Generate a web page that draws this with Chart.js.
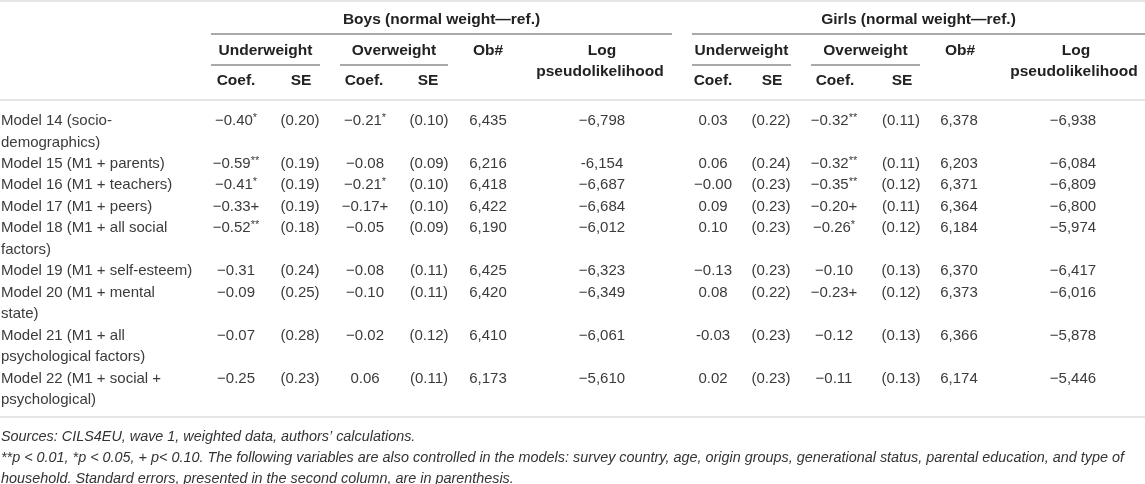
<!DOCTYPE html>
<html>
<head>
<meta charset="utf-8">
<title>Boys and girls weight models</title>
<script src="https://cdn.jsdelivr.net/npm/chart.js@4.4.1/dist/chart.umd.min.js"></script>
<style>
  html, body { margin: 0; padding: 0; background: #fff; }
  #wrap { width: 1145px; height: 484px; position: relative; }
</style>
</head>
<body>
<div id="wrap"><canvas id="tbl"></canvas></div>
<script>
// table data
var modelLabels = [
  ['Model 14 (socio-', 'demographics)'],
  ['Model 15 (M1 + parents)'],
  ['Model 16 (M1 + teachers)'],
  ['Model 17 (M1 + peers)'],
  ['Model 18 (M1 + all social', 'factors)'],
  ['Model 19 (M1 + self-esteem)'],
  ['Model 20 (M1 + mental', 'state)'],
  ['Model 21 (M1 + all', 'psychological factors)'],
  ['Model 22 (M1 + social +', 'psychological)']
];
var groupLabels = ['Boys (normal weight\u2014ref.)', 'Girls (normal weight\u2014ref.)'];
var subLabels = ['Underweight', 'Overweight', 'Ob#', ['Log', 'pseudolikelihood']];
var statLabels = ['Coef.', 'SE'];

var boysUnderCoef = ['\u22120.40*', '\u22120.59**', '\u22120.41*', '\u22120.33+', '\u22120.52**', '\u22120.31', '\u22120.09', '\u22120.07', '\u22120.25'];
var boysUnderSE   = ['(0.20)', '(0.19)', '(0.19)', '(0.19)', '(0.18)', '(0.24)', '(0.25)', '(0.28)', '(0.23)'];
var boysOverCoef  = ['\u22120.21*', '\u22120.08', '\u22120.21*', '\u22120.17+', '\u22120.05', '\u22120.08', '\u22120.10', '\u22120.02', '0.06'];
var boysOverSE    = ['(0.10)', '(0.09)', '(0.10)', '(0.10)', '(0.09)', '(0.11)', '(0.11)', '(0.12)', '(0.11)'];
var boysObs       = ['6,435', '6,216', '6,418', '6,422', '6,190', '6,425', '6,420', '6,410', '6,173'];
var boysLogLik    = ['\u22126,798', '-6,154', '\u22126,687', '\u22126,684', '\u22126,012', '\u22126,323', '\u22126,349', '\u22126,061', '\u22125,610'];

var girlsUnderCoef = ['0.03', '0.06', '\u22120.00', '0.09', '0.10', '\u22120.13', '0.08', '-0.03', '0.02'];
var girlsUnderSE   = ['(0.22)', '(0.24)', '(0.23)', '(0.23)', '(0.23)', '(0.23)', '(0.22)', '(0.23)', '(0.23)'];
var girlsOverCoef  = ['\u22120.32**', '\u22120.32**', '\u22120.35**', '\u22120.20+', '\u22120.26*', '\u22120.10', '\u22120.23+', '\u22120.12', '\u22120.11'];
var girlsOverSE    = ['(0.11)', '(0.11)', '(0.12)', '(0.11)', '(0.12)', '(0.13)', '(0.12)', '(0.13)', '(0.13)'];
var girlsObs       = ['6,378', '6,203', '6,371', '6,364', '6,184', '6,370', '6,373', '6,366', '6,174'];
var girlsLogLik    = ['\u22126,938', '\u22126,084', '\u22126,809', '\u22126,800', '\u22125,974', '\u22126,417', '\u22126,016', '\u22125,878', '\u22125,446'];

var footnotes = [
  'Sources: CILS4EU, wave 1, weighted data, authors\u2019 calculations.',
  '**p < 0.01, *p < 0.05, + p< 0.10. The following variables are also controlled in the models: survey country, age, origin groups, generational status, parental education, and type of',
  'household. Standard errors, presented in the second column, are in parenthesis.'
];

// layout (reference pixel units)
var W = 1145, H = 484;
var FONT = '"Liberation Sans", Arial, Helvetica, sans-serif';
var textColor = '#3b3b3b', headColor = '#222';
var groupSpans = [[211, 672], [692, 1145]];
var subSpans = [[[211, 320], [340, 448]], [[692, 791], [811, 920]]];
var obX = [488, 960], logX = [600, 1074];
var statX = [[236, 301, 364, 428], [713, 772, 835, 902]];
var bodyTop = 121, lineH = 21.45;

var columns = [
  { vals: boysUnderCoef, x: 236 }, { vals: boysUnderSE, x: 300 },
  { vals: boysOverCoef, x: 365 },  { vals: boysOverSE, x: 429 },
  { vals: boysObs, x: 488 },       { vals: boysLogLik, x: 602 },
  { vals: girlsUnderCoef, x: 713 }, { vals: girlsUnderSE, x: 771 },
  { vals: girlsOverCoef, x: 834 },  { vals: girlsOverSE, x: 901 },
  { vals: girlsObs, x: 959 },       { vals: girlsLogLik, x: 1073 }
];

var tablePlugin = {
  id: 'tablePlugin',
  afterDraw: function(chart) {
    var ctx = chart.ctx;
    var xs = chart.scales.x, ys = chart.scales.y;
    function px(v) { return xs.getPixelForValue(v); }
    function py(v) { return ys.getPixelForValue(v); }

    function rule(x1, x2, y, color, w) {
      ctx.save();
      ctx.strokeStyle = color;
      ctx.lineWidth = w;
      ctx.beginPath();
      ctx.moveTo(px(x1), py(y));
      ctx.lineTo(px(x2), py(y));
      ctx.stroke();
      ctx.restore();
    }
    function head(text, cx, y) {
      ctx.font = 'bold 15.5px ' + FONT;
      ctx.fillStyle = headColor;
      ctx.textAlign = 'center';
      ctx.textBaseline = 'middle';
      ctx.fillText(text, px(cx), py(y));
    }
    // value with small raised asterisks
    function cell(text, cx, y) {
      var m = text.match(/^(.*?)(\*+)$/);
      var main = m ? m[1] : text, stars = m ? m[2] : '';
      ctx.textBaseline = 'middle';
      ctx.textAlign = 'left';
      ctx.fillStyle = textColor;
      ctx.font = '15px ' + FONT;
      var wMain = ctx.measureText(main).width;
      ctx.font = '11px ' + FONT;
      var wStars = stars ? ctx.measureText(stars).width : 0;
      var x0 = px(cx) - (wMain + wStars) / 2;
      ctx.font = '15px ' + FONT;
      ctx.fillText(main, x0, py(y));
      if (stars) {
        ctx.font = '11px ' + FONT;
        ctx.fillText(stars, x0 + wMain, py(y) - 3);
      }
    }

    ctx.save();
    // outer rules
    rule(0, W, 1, '#dcdcdc', 1.5);
    rule(0, W, 100, '#dcdcdc', 1.5);
    rule(0, W, 417, '#dcdcdc', 1.5);

    // header rows
    for (var g = 0; g < 2; g++) {
      var gs = groupSpans[g];
      head(groupLabels[g], (gs[0] + gs[1]) / 2, 20);
      rule(gs[0], gs[1], 34, '#8c8c8c', 1.5);
      for (var s = 0; s < 2; s++) {
        var ss = subSpans[g][s];
        head(subLabels[s], (ss[0] + ss[1]) / 2, 51);
        rule(ss[0], ss[1], 65, '#8c8c8c', 1.5);
        head(statLabels[0], statX[g][s * 2], 81);
        head(statLabels[1], statX[g][s * 2 + 1], 81);
      }
      head(subLabels[2], obX[g], 51);
      head(subLabels[3][0], logX[g] + 2, 51);
      head(subLabels[3][1], logX[g], 72);
    }

    // body rows
    var line = 0;
    for (var r = 0; r < modelLabels.length; r++) {
      var y0 = bodyTop + line * lineH;
      ctx.font = '15px ' + FONT;
      ctx.fillStyle = textColor;
      ctx.textAlign = 'left';
      ctx.textBaseline = 'middle';
      for (var k = 0; k < modelLabels[r].length; k++) {
        ctx.fillText(modelLabels[r][k], px(1), py(y0 + k * lineH));
      }
      for (var c = 0; c < columns.length; c++) {
        cell(columns[c].vals[r], columns[c].x, y0);
      }
      line += modelLabels[r].length;
    }

    // notes
    ctx.font = 'italic 14.4px ' + FONT;
    ctx.fillStyle = '#333';
    ctx.textAlign = 'left';
    ctx.textBaseline = 'middle';
    for (var f = 0; f < footnotes.length; f++) {
      ctx.fillText(footnotes[f], px(1), py(437 + f * 21), 1138);
    }
    ctx.restore();
  }
};

new Chart(document.getElementById('tbl'), {
  type: 'scatter',
  data: { datasets: [] },
  options: {
    responsive: true,
    maintainAspectRatio: false,
    animation: false,
    layout: { padding: 0 },
    plugins: { legend: { display: false }, tooltip: { enabled: false } },
    scales: {
      x: { type: 'linear', display: false, min: 0, max: W },
      y: { type: 'linear', display: false, min: 0, max: H, reverse: true }
    }
  },
  plugins: [tablePlugin]
});
</script>
</body>
</html>
